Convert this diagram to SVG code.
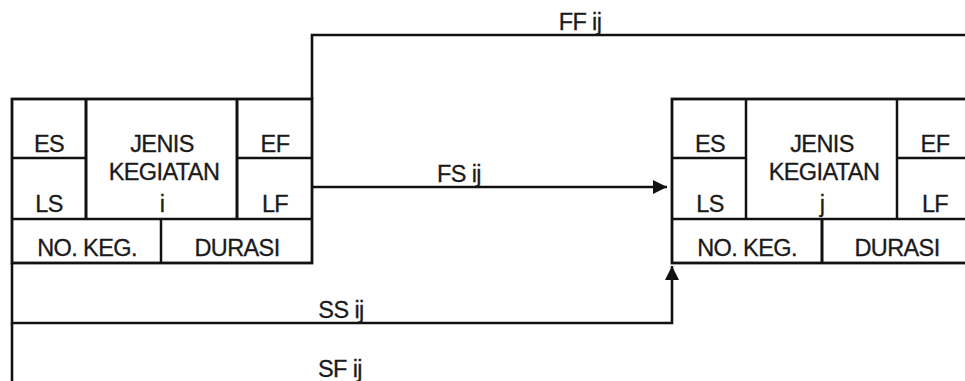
<svg xmlns="http://www.w3.org/2000/svg" width="965" height="381" viewBox="0 0 965 381">
<style>
  .bg { fill: #ffffff; }
  .box { fill: none; stroke: #111111; stroke-width: 2.8; }
  .div { stroke: #111111; stroke-width: 2.5; fill: none; }
  .col { stroke: #111111; stroke-width: 3; fill: none; }
  .conn { stroke: #111111; stroke-width: 2.6; fill: none; }
  text { font-family: "Liberation Sans", Arial, sans-serif; font-size: 23.5px; letter-spacing: -0.6px; fill: #1a1a1a; stroke: #1a1a1a; stroke-width: 0.3; text-anchor: middle; }
</style>
<defs>
  <marker id="arrow" markerUnits="userSpaceOnUse" viewBox="0 0 14 14" refX="14" refY="7" markerWidth="14" markerHeight="14" orient="auto">
    <path d="M0,0 L14,7 L0,14 z" fill="#111111"/>
  </marker>
</defs>
<rect class="bg" x="0" y="0" width="965" height="381"/>

<g id="connectors">
  <path id="ff" class="conn" d="M312,99 V35 H975"/>
  <path id="fs" class="conn" d="M312,187 H667" marker-end="url(#arrow)"/>
  <path id="ss" class="conn" d="M12,263 V323 H672 V266" marker-end="url(#arrow)"/>
  <path id="sf" class="conn" d="M12,323 V385"/>
  <text x="580" y="30">FF ij</text>
  <text x="459" y="182">FS ij</text>
  <text x="341" y="318">SS ij</text>
  <text x="340" y="377">SF ij</text>
</g>

<g id="node-i">
  <rect class="box" x="12" y="99" width="300" height="164"/>
  <line class="col" x1="86" y1="99" x2="86" y2="219"/>
  <line class="col" x1="237" y1="99" x2="237" y2="219"/>
  <line class="div" x1="12" y1="158" x2="86" y2="158"/>
  <line class="div" x1="237" y1="158" x2="312" y2="158"/>
  <line class="div" x1="12" y1="219" x2="312" y2="219"/>
  <line class="div" x1="161" y1="219" x2="161" y2="263"/>
  <text x="49" y="152">ES</text>
  <text x="49" y="212">LS</text>
  <text x="162" y="152">JENIS</text>
  <text x="164" y="180">KEGIATAN</text>
  <text x="162" y="212">i</text>
  <text x="275" y="152">EF</text>
  <text x="275" y="212">LF</text>
  <text x="87" y="256">NO. KEG.</text>
  <text x="237" y="256">DURASI</text>
</g>

<g id="node-j">
  <rect class="box" x="672" y="99" width="300" height="164"/>
  <line class="div" x1="746" y1="99" x2="746" y2="219"/>
  <line class="div" x1="897" y1="99" x2="897" y2="219"/>
  <line class="div" x1="672" y1="158" x2="746" y2="158"/>
  <line class="div" x1="897" y1="158" x2="972" y2="158"/>
  <line class="div" x1="672" y1="219" x2="972" y2="219"/>
  <line class="col" x1="822" y1="219" x2="822" y2="263"/>
  <text x="710" y="152">ES</text>
  <text x="710" y="212">LS</text>
  <text x="822" y="152">JENIS</text>
  <text x="824" y="180">KEGIATAN</text>
  <text x="822" y="212">j</text>
  <text x="935" y="152">EF</text>
  <text x="935" y="212">LF</text>
  <text x="747" y="256">NO. KEG.</text>
  <text x="897" y="256">DURASI</text>
</g>
</svg>
